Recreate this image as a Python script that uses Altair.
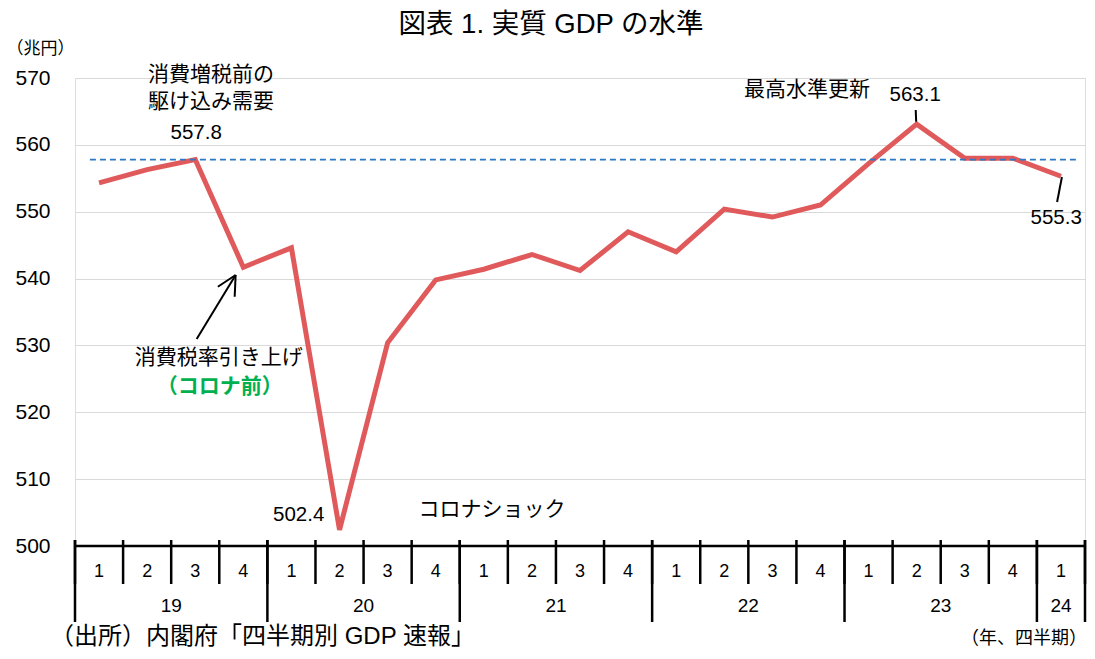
import altair as alt
import pandas as pd

# ---------------- data ----------------
years = ["19", "19", "19", "19", "20", "20", "20", "20", "21", "21", "21", "21",
         "22", "22", "22", "22", "23", "23", "23", "23", "24"]
quarters = ["1", "2", "3", "4", "1", "2", "3", "4", "1", "2", "3", "4",
            "1", "2", "3", "4", "1", "2", "3", "4", "1"]
gdp = [554.3, 556.3, 557.8, 541.7, 544.6, 502.4, 530.4, 539.8, 541.4, 543.6, 541.2,
       547.0, 544.0, 550.4, 549.2, 551.0, 557.2, 563.1, 558.0, 558.0, 555.3]
pre_hike_peak = 557.8
year_labels = ["19", "20", "21", "22", "23", "24"]
y_ticks = [500, 510, 520, 530, 540, 550, 560, 570]

n = len(gdp)
df = pd.DataFrame({"pos": [i + 0.5 for i in range(n)], "gdp": gdp, "q": quarters, "yr": years})

year_starts = [i for i in range(n) if i == 0 or years[i] != years[i - 1]]
year_bounds = year_starts + [n]
year_df = pd.DataFrame({
    "label": year_labels,
    "center": [(year_bounds[k] + year_bounds[k + 1]) / 2 for k in range(len(year_labels))],
})
qb_df = pd.DataFrame({"b": list(range(n + 1))})
yb_df = pd.DataFrame({"b": year_bounds})

LATIN = "Liberation Sans, Arial, Noto Sans CJK JP"
CJK = "Noto Sans CJK JP, Liberation Sans"

W, H = 1010, 468
xs = alt.Scale(domain=[0, n], nice=False, zero=False)
ys = alt.Scale(domain=[500, 570], nice=False, zero=False)

# ---------------- main line + y axis ----------------
line = alt.Chart(df).mark_line(color="#e05a5c", strokeWidth=5, strokeJoin="miter").encode(
    x=alt.X("pos:Q", scale=xs, axis=None),
    y=alt.Y("gdp:Q", scale=ys, axis=alt.Axis(
        values=y_ticks, grid=True, gridColor="#d9d9d9", gridWidth=1.2,
        domain=False, ticks=False, labelFontSize=21, labelFont=LATIN, labelColor="#000",
        labelPadding=25, title="（兆円）", titleAngle=0, titleX=-69, titleY=-30,
        titleAlign="left", titleBaseline="middle", titleFont=CJK, titleFontSize=17,
        titleFontWeight="normal", titleColor="#000")),
)

dash_df = pd.DataFrame({"x0": [0.31], "x1": [20.81], "v": [pre_hike_peak]})
dash = alt.Chart(dash_df).mark_rule(color="#2f78c4", strokeWidth=1.8, strokeDash=[6, 4]).encode(
    x=alt.X("x0:Q", scale=xs), x2="x1:Q", y=alt.Y("v:Q", scale=ys))

# ---------------- custom category axis ----------------
axis_line_df = pd.DataFrame({"x0": [0], "x1": [n]})
axis_line = alt.Chart(axis_line_df).mark_rule(color="#000", strokeWidth=2.5).encode(
    x=alt.X("x0:Q", scale=xs), x2="x1:Q", y=alt.value(H))
q_ticks = alt.Chart(qb_df).mark_rule(color="#000", strokeWidth=2.5).encode(
    x=alt.X("b:Q", scale=xs), y=alt.value(H - 6), y2=alt.value(H + 38))
y_ticks_m = alt.Chart(yb_df).mark_rule(color="#000", strokeWidth=2.5).encode(
    x=alt.X("b:Q", scale=xs), y=alt.value(H - 6), y2=alt.value(H + 76))
q_labels = alt.Chart(df).mark_text(fontSize=18, font=LATIN, color="#000", baseline="middle").encode(
    x=alt.X("pos:Q", scale=xs), y=alt.value(H + 26), text="q:N")
yr_labels = alt.Chart(year_df).mark_text(fontSize=19, font=LATIN, color="#000", baseline="middle").encode(
    x=alt.X("center:Q", scale=xs), y=alt.value(H + 60), text="label:N")

# ---------------- annotations ----------------
ann = pd.DataFrame({
    "t": ["消費増税前の", "駆け込み需要", "557.8", "消費税率引き上げ", "（コロナ前）",
          "502.4", "コロナショック", "最高水準更新", "563.1", "555.3"],
    "x": [2.83, 2.83, 2.52, 2.99, 3.01, 4.65, 8.67, 15.22, 17.47, 20.4],
    "y": [570.45, 566.4, 561.77, 528.1, 523.8, 504.6, 505.4, 568.2, 567.5, 549.1],
    "c": ["#000", "#000", "#000", "#000", "#00b050", "#000", "#000", "#000", "#000", "#000"],
    "w": ["normal", "normal", "normal", "normal", "bold", "normal", "normal", "normal", "normal", "normal"],
    "f": [CJK, CJK, LATIN, CJK, CJK, LATIN, CJK, CJK, LATIN, LATIN],
    "s": [21, 21, 20.5, 21, 21, 20.5, 21, 21, 20.5, 20.5],
})
texts = []
for _, r in ann.iterrows():
    texts.append(alt.Chart(pd.DataFrame([r])).mark_text(
        fontSize=float(r["s"]), font=r["f"], color=r["c"], fontWeight=r["w"], baseline="middle").encode(
        x=alt.X("x:Q", scale=xs), y=alt.Y("y:Q", scale=ys), text="t:N"))

seg = pd.DataFrame({
    "x0": [2.53, 3.34, 3.34, 17.48, 20.52],
    "y0": [530.96, 540.53, 540.53, 565.21, 555.19],
    "x1": [3.34, 2.97, 3.32, 17.49, 20.42],
    "y1": [540.53, 538.78, 537.29, 563.46, 551.45],
})
segs = alt.Chart(seg).mark_rule(color="#000", strokeWidth=2).encode(
    x=alt.X("x0:Q", scale=xs), y=alt.Y("y0:Q", scale=ys), x2="x1:Q", y2="y1:Q")

# ---------------- titles / notes ----------------
title = alt.Chart(pd.DataFrame({"t": ["図表 1. 実質 GDP の水準"]})).mark_text(
    fontSize=27.5, font=LATIN, color="#000", baseline="middle", align="center").encode(
    x=alt.value(476), y=alt.value(-53), text="t:N")
source = alt.Chart(pd.DataFrame({"t": ["（出所）内閣府「四半期別 GDP 速報」"]})).mark_text(
    fontSize=24, font=LATIN, color="#000", baseline="alphabetic", align="left").encode(
    x=alt.value(-25), y=alt.value(H + 98), text="t:N")
unit = alt.Chart(pd.DataFrame({"t": ["（年、四半期）"]})).mark_text(
    fontSize=18, font=CJK, color="#000", baseline="alphabetic", align="right").encode(
    x=alt.value(W + 2), y=alt.value(H + 98), text="t:N")

chart = alt.layer(
    line, dash, axis_line, q_ticks, y_ticks_m, q_labels, yr_labels, segs, *texts, title, source, unit
).properties(
    width=W, height=H,
    autosize=alt.AutoSizeParams(type="none"),
    padding={"left": 67, "top": 70, "right": 2, "bottom": 102},
).configure_view(stroke=None).configure(background="white")

chart.save("out.html", embed_options={"renderer": "svg", "actions": False})
